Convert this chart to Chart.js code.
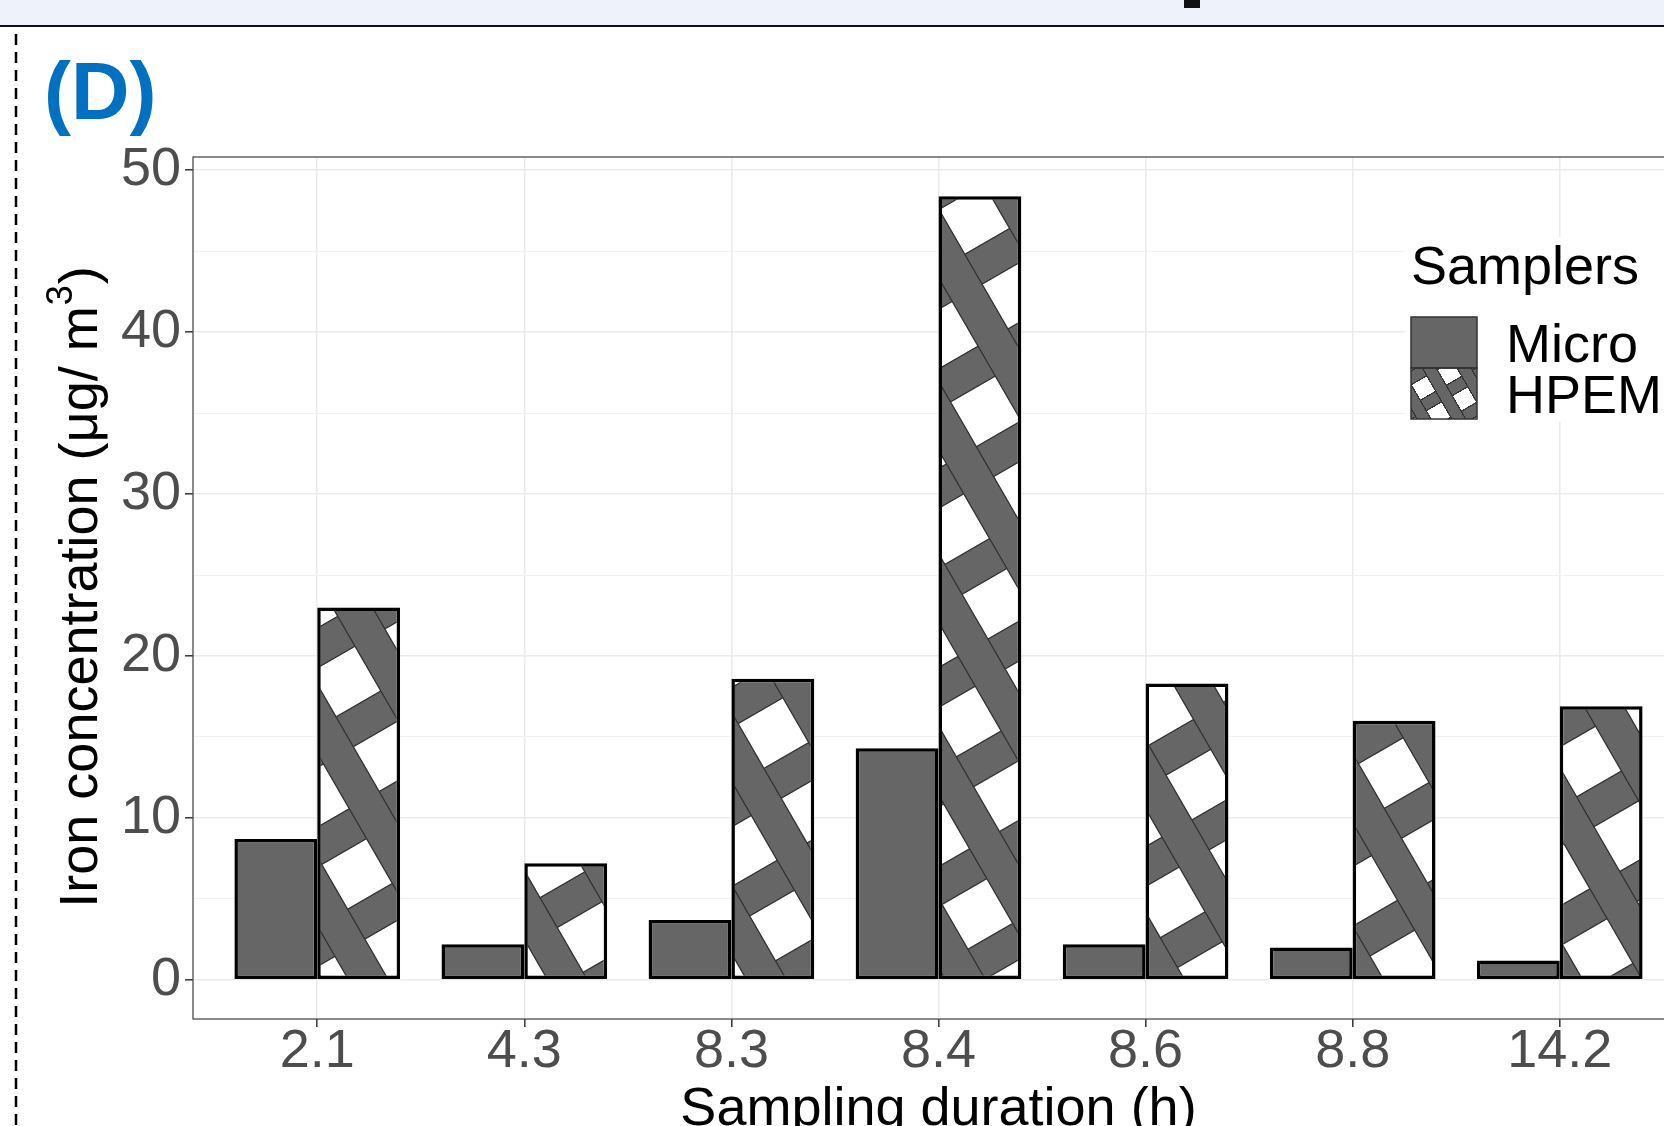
<!DOCTYPE html>
<html>
<head>
<meta charset="utf-8">
<script src="https://cdn.jsdelivr.net/npm/chart.js@4.4.1/dist/chart.umd.min.js"></script>
<style>
  html, body { margin: 0; padding: 0; background: #fff; overflow: hidden; }
  #wrap { position: relative; width: 1664px; height: 1126px; overflow: hidden; }
  #chart-bars { position: absolute; left: 0; top: 0; }
</style>
</head>
<body>
<div id="wrap"><canvas id="chart-bars" width="1700" height="1160"></canvas></div>
<script>
// values
var categories = ["2.1", "4.3", "8.3", "8.4", "8.6", "8.8", "14.2"];
var microValues = [8.7, 2.2, 3.7, 14.3, 2.2, 2.0, 1.2];
var hpemValues = [23.0, 7.2, 18.6, 48.4, 18.3, 16.0, 16.9];
var yTickValues = [0, 10, 20, 30, 40, 50];
var seriesNames = ["Micro", "HPEM"];
var legendTitle = "Samplers";
var xTitle = "Sampling duration (h)";
var yTitle = "Iron concentration (μg/ m";
var yTitleSup = "3";
var panelLabel = "(D)";

var FONT = "'Liberation Sans', Arial, Helvetica, sans-serif";
var GREY = "#666666";
var EDGE = "#333333";
var TICK_TEXT = "#4d4d4d";

Chart.defaults.font.family = FONT;

// crosshatch fill: stripes at 30 deg and 120 deg, grid centred on (cx, cy)
var patternCache = {};
function hatchPattern(ctx, cx, cy, spacing, density, edgeWidth) {
  var key = [cx, cy, spacing].join("|");
  if (patternCache[key]) return patternCache[key];
  var T = 200;
  var tile = document.createElement("canvas");
  tile.width = T;
  tile.height = T;
  var t = tile.getContext("2d");
  var s = spacing / T;
  var w = density * T;
  t.fillStyle = "#ffffff";
  t.fillRect(0, 0, T, T);
  t.strokeStyle = EDGE;
  t.lineWidth = edgeWidth / s;
  t.fillStyle = GREY;
  t.fillRect(0, T / 2 - w / 2, T, w);
  t.beginPath();
  t.moveTo(0, T / 2 - w / 2); t.lineTo(T, T / 2 - w / 2);
  t.moveTo(0, T / 2 + w / 2); t.lineTo(T, T / 2 + w / 2);
  t.stroke();
  t.fillRect(T / 2 - w / 2, 0, w, T);
  t.beginPath();
  t.moveTo(T / 2 - w / 2, 0); t.lineTo(T / 2 - w / 2, T);
  t.moveTo(T / 2 + w / 2, 0); t.lineTo(T / 2 + w / 2, T);
  t.stroke();
  var pat = ctx.createPattern(tile, "repeat");
  var a = Math.cos(Math.PI / 6), b = Math.sin(Math.PI / 6);
  var m = new DOMMatrix()
    .translateSelf(cx, cy)
    .multiplySelf(new DOMMatrix([a, -b, b, a, 0, 0]))
    .scaleSelf(s, s)
    .translateSelf(-T / 2, -T / 2);
  pat.setTransform(m);
  patternCache[key] = pat;
  return pat;
}

function panelPattern(c) {
  var ca = c.chart.chartArea;
  if (!ca) return "#ffffff";
  var P = 0.1 * Math.min(ca.width, ca.height);
  return hatchPattern(c.chart.ctx, (ca.left + ca.right) / 2, (ca.top + ca.bottom) / 2, P, 0.4, 1.3);
}

var decor = {
  id: "decor",
  beforeDraw: function (chart) {
    var ctx = chart.ctx;
    ctx.save();
    ctx.fillStyle = "#ffffff";
    ctx.fillRect(0, 0, chart.width, chart.height);
    // strip of the figure above
    ctx.fillStyle = "#eef3fb";
    ctx.fillRect(0, 0, chart.width, 25);
    ctx.fillStyle = "#111111";
    ctx.fillRect(0, 25, chart.width, 2);
    ctx.fillRect(1184, 0, 16, 8);
    // dashed divider
    ctx.strokeStyle = "#000000";
    ctx.lineWidth = 2.5;
    ctx.setLineDash([11, 7]);
    ctx.beginPath();
    ctx.moveTo(16, 34);
    ctx.lineTo(16, chart.height);
    ctx.stroke();
    ctx.setLineDash([]);
    // panel tag
    ctx.fillStyle = "#0070c0";
    ctx.font = "bold 81px " + FONT;
    ctx.textBaseline = "alphabetic";
    ctx.fillText(panelLabel, 44, 119);
    ctx.restore();
  },
  afterDraw: function (chart) {
    var ctx = chart.ctx;
    var ca = chart.chartArea;
    ctx.save();
    // panel border
    ctx.strokeStyle = "#4d4d4d";
    ctx.lineWidth = 1.3;
    ctx.strokeRect(ca.left, ca.top, ca.right - ca.left, ca.bottom - ca.top);

    // legend
    ctx.fillStyle = "#ffffff";
    ctx.fillRect(1405, 237, chart.width - 1405, 185);
    ctx.fillStyle = "#000000";
    ctx.font = "54px " + FONT;
    ctx.textBaseline = "alphabetic";
    ctx.fillText(legendTitle, 1411, 284);
    var kx = 1411, kw = 66, kh = 51;
    var keyTops = [317, 368];
    ctx.fillStyle = GREY;
    ctx.fillRect(kx, keyTops[0], kw, kh);
    ctx.fillStyle = hatchPattern(ctx, kx + kw / 2, keyTops[1] + kh / 2, 30, 0.4, 1.2);
    ctx.fillRect(kx, keyTops[1], kw, kh);
    ctx.strokeStyle = EDGE;
    ctx.lineWidth = 1.5;
    ctx.strokeRect(kx, keyTops[0], kw, kh);
    ctx.strokeRect(kx, keyTops[1], kw, kh);
    ctx.fillStyle = "#000000";
    ctx.font = "54px " + FONT;
    ctx.fillText(seriesNames[0], 1506, 362);
    ctx.fillText(seriesNames[1], 1506, 413);

    // x title
    ctx.textAlign = "center";
    ctx.fillText(xTitle, (ca.left + ca.right) / 2, 1125);

    // y title with superscript
    ctx.translate(97, (ca.top + ca.bottom) / 2);
    ctx.rotate(-Math.PI / 2);
    ctx.textAlign = "left";
    ctx.font = "54px " + FONT;
    var mainW = ctx.measureText(yTitle).width;
    var closeW = ctx.measureText(")").width;
    ctx.font = "36px " + FONT;
    var supW = ctx.measureText(yTitleSup).width;
    var x0 = -(mainW + supW + closeW) / 2;
    ctx.font = "54px " + FONT;
    ctx.fillText(yTitle, x0, 0);
    ctx.fillText(")", x0 + mainW + supW + 2, 0);
    ctx.font = "36px " + FONT;
    ctx.fillText(yTitleSup, x0 + mainW + 1, -25);
    ctx.restore();
  }
};

var ctx = document.getElementById("chart-bars").getContext("2d");

new Chart(ctx, {
  type: "bar",
  data: {
    datasets: [
      {
        label: seriesNames[0],
        data: microValues.map(function (v, i) { return { x: i, y: v }; }),
        backgroundColor: GREY,
        borderColor: "#000000",
        borderWidth: 3.5,
        borderSkipped: false,
        inflateAmount: 0,
        categoryPercentage: 0.8,
        barPercentage: 1.0,
      },
      {
        label: seriesNames[1],
        data: hpemValues.map(function (v, i) { return { x: i, y: v }; }),
        backgroundColor: panelPattern,
        borderColor: "#000000",
        borderWidth: 3.5,
        borderSkipped: false,
        inflateAmount: 0,
        categoryPercentage: 0.8,
        barPercentage: 1.0,
      },
    ],
  },
  options: {
    responsive: false,
    animation: false,
    events: [],
    layout: { padding: { left: 0, top: 157, right: 16, bottom: 0 } },
    plugins: {
      legend: { display: false },
      tooltip: { enabled: false },
    },
    scales: {
      x: {
        type: "linear",
        offset: false,
        min: -0.6,
        max: categories.length - 1 + 0.6,
        afterBuildTicks: function (s) {
          s.ticks = categories.map(function (_, i) { return { value: i }; });
        },
        afterFit: function (s) { s.height = 141; },
        ticks: {
          autoSkip: false,
          maxRotation: 0,
          padding: -7,
          color: TICK_TEXT,
          font: { size: 54, family: FONT },
          callback: function (v) { return categories[v] !== undefined ? categories[v] : ""; },
        },
        grid: {
          offset: false,
          color: "#ebebeb",
          lineWidth: 1.6,
          tickColor: EDGE,
          tickLength: 8,
          tickWidth: 1.5,
        },
        border: { display: false },
      },
      y: {
        type: "linear",
        min: -2.42,
        max: 50.82,
        afterBuildTicks: function (s) {
          var t = [];
          yTickValues.forEach(function (v, i) {
            t.push({ value: v });
            if (i < yTickValues.length - 1) t.push({ value: (v + yTickValues[i + 1]) / 2 });
          });
          s.ticks = t;
        },
        afterFit: function (s) { s.width = 193; },
        ticks: {
          padding: 4,
          color: TICK_TEXT,
          font: { size: 54, family: FONT },
          callback: function (v) { return yTickValues.indexOf(v) >= 0 ? String(v) : ""; },
        },
        grid: {
          color: function (c) { return c.tick && yTickValues.indexOf(c.tick.value) >= 0 ? "#ebebeb" : "#f2f2f2"; },
          lineWidth: function (c) { return c.tick && yTickValues.indexOf(c.tick.value) >= 0 ? 1.6 : 1.0; },
          tickColor: function (c) { return c.tick && yTickValues.indexOf(c.tick.value) >= 0 ? EDGE : "rgba(0,0,0,0)"; },
          tickLength: 8,
          tickWidth: 1.5,
        },
        border: { display: false },
      },
    },
  },
  plugins: [decor],
});
</script>
</body>
</html>
